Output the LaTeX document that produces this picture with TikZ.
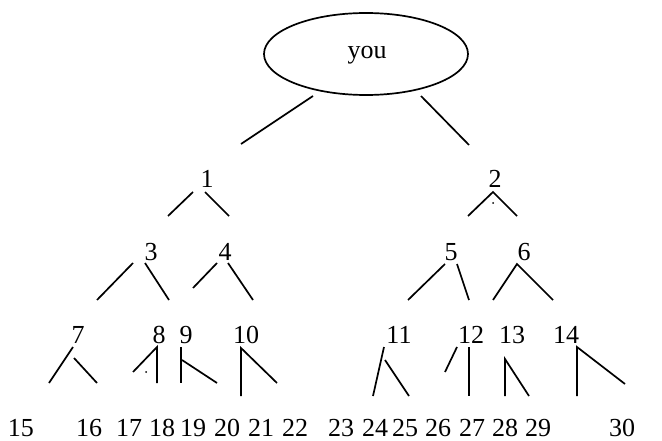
\documentclass[tikz,border=0pt]{standalone}
\usepackage{fontspec}
\setmainfont{Liberation Serif}
\usetikzlibrary{shapes.geometric}
\begin{document}
\begin{tikzpicture}[x=1pt,y=-1pt,
  lbl/.style={inner sep=0pt,anchor=base,font=\fontsize{26}{28}\selectfont},
  br/.style={line width=1.7pt},
  dotmark/.style={fill=black,inner sep=0pt,minimum size=2pt,circle}]
\useasboundingbox (0,0) rectangle (662,441);
% root
\node[ellipse,draw,line width=1.7pt,minimum width=204pt,minimum height=82pt,inner sep=0pt] (you) at (366,54) {};
\node[lbl] (yout) at (367,59) {you};
\draw[br] (313,96) -- (241,144);
\draw[br] (421,96) -- (469,145);
% level 1
\node[lbl] (n1) at (207,188) {1};
\node[lbl] (n2) at (495,188) {2};
\draw[br] (193,192) -- (168,216);
\draw[br] (205,192) -- (229,216);
\draw[br] (468,216) -- (493,192) -- (517,216);
\node[dotmark] (d1) at (493,203) {};
% level 2
\node[lbl] (n3) at (151,261) {3};
\node[lbl] (n4) at (225,261) {4};
\node[lbl] (n5) at (451,261) {5};
\node[lbl] (n6) at (524,261) {6};
\draw[br] (133,263) -- (97,300);
\draw[br] (145,263) -- (169,300);
\draw[br] (217,263) -- (193,288);
\draw[br] (228,263) -- (253,300);
\draw[br] (445,264) -- (408,300);
\draw[br] (457,264) -- (469,300);
\draw[br] (493,300) -- (517,264) -- (553,300);
% level 3
\node[lbl] (n7) at (78,343) {7};
\node[lbl] (n8) at (159,343) {8};
\node[lbl] (n9) at (186,343) {9};
\node[lbl] (n10) at (246,343) {10};
\node[lbl] (n11) at (399,343) {11};
\node[lbl] (n12) at (471,343) {12};
\node[lbl] (n13) at (512,343) {13};
\node[lbl] (n14) at (566,343) {14};
\draw[br] (73,347) -- (49,383);
\draw[br] (74,358) -- (97,383);
\draw[br] (133,372) -- (157,347) -- (157,383);
\node[dotmark] (d2) at (146,372) {};
\draw[br] (181,347) -- (181,383);
\draw[br] (182,360) -- (217,383);
\draw[br] (241,396) -- (241,348) -- (277,383);
\draw[br] (384,347) -- (373,396);
\draw[br] (385,360) -- (409,396);
\draw[br] (457,347) -- (445,372);
\draw[br] (469,347) -- (469,396);
\draw[br] (505,396) -- (505,359) -- (529,396);
\draw[br] (577,396) -- (577,347) -- (625,384);
% leaves
\node[lbl] (n15) at (21,436) {15};
\node[lbl] (n16) at (89,436) {16};
\node[lbl] (n17) at (129,436) {17};
\node[lbl] (n18) at (162,436) {18};
\node[lbl] (n19) at (193,436) {19};
\node[lbl] (n20) at (227,436) {20};
\node[lbl] (n21) at (261,436) {21};
\node[lbl] (n22) at (295,436) {22};
\node[lbl] (n23) at (341,436) {23};
\node[lbl] (n24) at (375,436) {24};
\node[lbl] (n25) at (405,436) {25};
\node[lbl] (n26) at (438,436) {26};
\node[lbl] (n27) at (472,436) {27};
\node[lbl] (n28) at (505,436) {28};
\node[lbl] (n29) at (538,436) {29};
\node[lbl] (n30) at (622,436) {30};
\end{tikzpicture}
\end{document}
